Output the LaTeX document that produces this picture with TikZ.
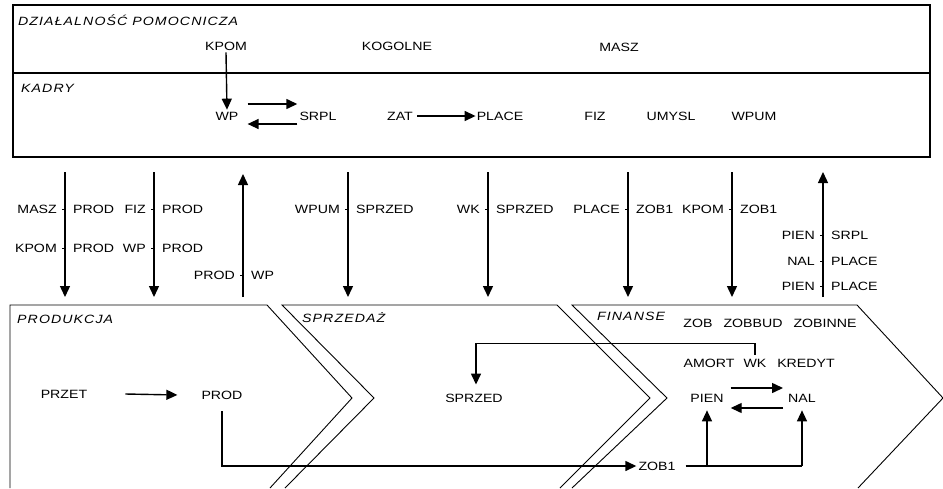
\documentclass[tikz,border=0pt]{standalone}
\usepackage{fontspec}
\setmainfont{Liberation Sans}[FakeStretch=1.18]
\newfontfamily\sectfont{Liberation Sans}[FakeStretch=1.18, LetterSpace=9]
\usetikzlibrary{arrows.meta, calc}

\begin{document}
\begin{tikzpicture}[x=1pt, y=-1pt, font=\fontsize{12}{14}\selectfont,
    flow/.style={-{Triangle[length=11pt,width=10pt]}, line width=1.4pt},
    txt/.style={inner sep=2pt},
    sect/.style={inner sep=2pt, anchor=west, font=\fontsize{12}{14}\sectfont\itshape},
    chev/.style={line width=0.9pt}]
\useasboundingbox (0,0) rectangle (943,488);
% Define label pair across a vertical flow
\def\crossnote#1#2#3#4#5{
    % #1 = x of flow, #2 = y, #3 = left text, #4 = right text, #5 = name
    \node[txt, anchor=east] (#5l) at (#1-6, #2) {#3};
    \node[txt, anchor=west] (#5r) at (#1+6, #2) {#4};
    \draw[line width=0.8pt] (#1-3, #2) -- (#1, #2);
}
% Upper block
\draw[line width=1.2pt] (13,5) rectangle (930,157);
\draw[line width=1.2pt] (13,73) -- (930,73);
\node[sect] (dzial) at (16,20) {DZIAŁALNOŚĆ POMOCNICZA};
\node[sect] (kadry) at (19,88) {KADRY};

\node[txt] (kpom) at (226,46) {KPOM};
\node[txt] (kogolne) at (397,46) {KOGOLNE};
\node[txt] (masz) at (619,47) {MASZ};

\node[txt] (wp) at (227,116) {WP};
\node[txt] (srpl) at (318,116) {SRPL};
\node[txt] (zat) at (400,116) {ZAT};
\node[txt] (place) at (500,116) {PLACE};
\node[txt] (fiz) at (595,116) {FIZ};
\node[txt] (umysl) at (671,116) {UMYSL};
\node[txt] (wpum) at (754,116) {WPUM};

\draw[flow] (kpom.south) -- (wp.north);
\draw[flow] ([xshift=7pt,yshift=12pt]wp.east) -- ([yshift=12pt]srpl.west);
\draw[flow] ([yshift=-8pt]srpl.west) -- ([xshift=7pt,yshift=-8pt]wp.east);
\draw[flow] ([xshift=2pt]zat.east) -- ([xshift=1pt]place.west);

% Flows between the blocks
\coordinate (a1t) at (65,172);  \coordinate (a1b) at (65,297);
\coordinate (a2t) at (154,172); \coordinate (a2b) at (154,297);
\coordinate (a3t) at (243,174); \coordinate (a3b) at (243,297);
\coordinate (a4t) at (348,172); \coordinate (a4b) at (348,297);
\coordinate (a5t) at (488,172); \coordinate (a5b) at (488,297);
\coordinate (a6t) at (628,172); \coordinate (a6b) at (628,297);
\coordinate (a7t) at (732,172); \coordinate (a7b) at (732,297);
\coordinate (a8t) at (823,172); \coordinate (a8b) at (823,297);

\draw[flow] (a1t) -- (a1b);
\draw[flow] (a2t) -- (a2b);
\draw[flow] (a3b) -- (a3t);
\draw[flow] (a4t) -- (a4b);
\draw[flow] (a5t) -- (a5b);
\draw[flow] (a6t) -- (a6b);
\draw[flow] (a7t) -- (a7b);
\draw[flow] (a8b) -- (a8t);

\crossnote{65}{209}{MASZ}{PROD}{m1}
\crossnote{65}{248}{KPOM}{PROD}{m2}
\crossnote{154}{209}{FIZ}{PROD}{m3}
\crossnote{154}{248}{WP}{PROD}{m4}
\crossnote{243}{275}{PROD}{WP}{m5}
\crossnote{348}{209}{WPUM}{SPRZED}{m6}
\crossnote{488}{209}{WK}{SPRZED}{m7}
\crossnote{628}{209}{PLACE}{ZOB1}{m8}
\crossnote{732}{209}{KPOM}{ZOB1}{m9}
\crossnote{823}{235}{PIEN}{SRPL}{m10}
\crossnote{823}{261}{NAL}{PLACE}{m11}
\crossnote{823}{286}{PIEN}{PLACE}{m12}

% Lower blocks
\draw[chev] (10,488) -- (10,305) -- (267,305) -- (352,398) -- (270,488);
\draw[chev] (285,488) -- (374,398) -- (282,305) -- (557,305) -- (650,398) -- (560,488);
\draw[chev] (572,488) -- (667,398) -- (572,305) -- (857,305) -- (943,398) -- (858,488);

\node[sect] (produkcja) at (15,319) {PRODUKCJA};
\node[sect] (sprzedaz) at (300,318) {SPRZEDAŻ};
\node[sect] (finanse) at (595,316) {FINANSE};

\node[txt] (przet) at (64,394) {PRZET};
\node[txt] (prod) at (222,395) {PROD};
\node[txt] (sprzed) at (474,398) {SPRZED};

\node[txt] (zob) at (698,323) {ZOB};
\node[txt] (zobbud) at (753,323) {ZOBBUD};
\node[txt] (zobinne) at (825,323) {ZOBINNE};
\node[txt] (amort) at (709,363) {AMORT};
\node[txt] (wk) at (755,363) {WK};
\node[txt] (kredyt) at (806,363) {KREDYT};
\node[txt] (pien) at (707,398) {PIEN};
\node[txt] (nal) at (802,398) {NAL};
\node[txt] (zob1) at (657,466) {ZOB1};

\draw[flow] ([xshift=36pt]przet.east) -- ([xshift=-22pt]prod.west);
\draw[flow] ([yshift=-10pt]prod.south) |- (zob1.west);
\draw[flow] ([yshift=2pt]wk.north) -- ++(0,-11) -| ([xshift=2pt,yshift=7pt]sprzed.north);
\draw[flow] ([xshift=5pt,yshift=10pt]pien.east) -- ([xshift=-3pt,yshift=10pt]nal.west);
\draw[flow] ([xshift=-3pt,yshift=-10pt]nal.west) -- ([xshift=5pt,yshift=-10pt]pien.east);
\draw[line width=1.4pt] ([xshift=8pt]zob1.east) -- (zob1.east -| nal.south);
\draw[flow] (zob1.east -| pien.south) -- ([yshift=-6pt]pien.south);
\draw[flow] (zob1.east -| nal.south) -- ([yshift=-6pt]nal.south);
\end{tikzpicture}
\end{document}
